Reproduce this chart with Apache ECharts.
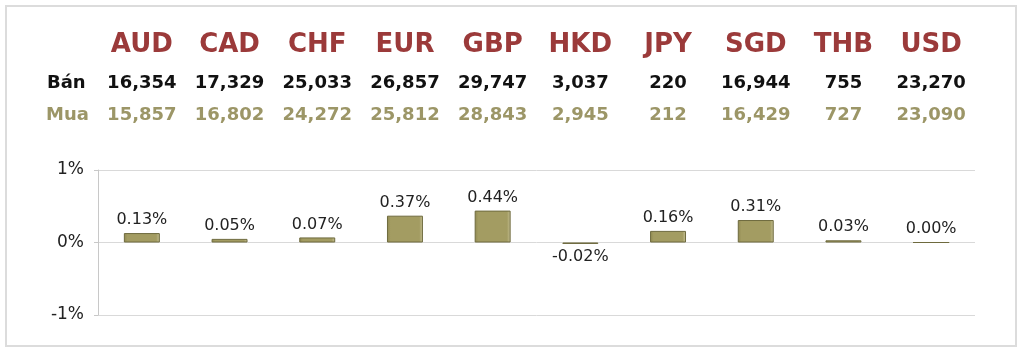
<!DOCTYPE html>
<html>
<head>
<meta charset="utf-8">
<script src="https://cdn.jsdelivr.net/npm/echarts@6/dist/echarts.min.js"></script>
<style>
  html, body { margin: 0; padding: 0; background: #fff; }
  #chart { width: 1024px; height: 353px; }
</style>
</head>
<body>
<div id="chart"></div>
<script>
// tỷ giá ngoại tệ
var currencies = ['AUD', 'CAD', 'CHF', 'EUR', 'GBP', 'HKD', 'JPY', 'SGD', 'THB', 'USD']
var sellRates = ['16,354', '17,329', '25,033', '26,857', '29,747', '3,037', '220', '16,944', '755', '23,270']
var buyRates = ['15,857', '16,802', '24,272', '25,812', '28,843', '2,945', '212', '16,429', '727', '23,090']
var changes = [0.13, 0.05, 0.07, 0.37, 0.44, -0.02, 0.16, 0.31, 0.03, 0.00]
var yTicks = { min: -1, max: 1, interval: 1 }
var rowNames = ['Bán', 'Mua']

var FONT = 'DejaVu Sans'
var chart = echarts.init(document.getElementById('chart'))

// trục phụ phía trên để hiển thị bảng tỷ giá
function topAxis (data, offset, size, color) {
  return {
    type: 'category',
    position: 'top',
    offset: offset,
    data: data,
    axisLine: { show: false },
    axisTick: { show: false },
    splitLine: { show: false },
    axisLabel: {
      interval: 0,
      margin: 0,
      fontFamily: FONT,
      fontWeight: 'bold',
      fontSize: size,
      color: color
    }
  }
}

chart.setOption({
  backgroundColor: '#fff',
  animation: false,
  grid: { left: 98, right: 49, top: 170, bottom: 38 },
  graphic: [
    {
      type: 'rect',
      shape: { x: 6, y: 6, width: 1010, height: 340 },
      style: { fill: 'none', stroke: '#dcdcdc', lineWidth: 2 },
      z: -1
    },
    {
      type: 'text', left: 47, top: 74,
      style: { text: rowNames[0], font: 'bold 18px "DejaVu Sans"', fill: '#111' }
    },
    {
      type: 'text', left: 46, top: 106,
      style: { text: rowNames[1], font: 'bold 18px "DejaVu Sans"', fill: '#9c9667' }
    }
  ],
  xAxis: [
    {
      type: 'category',
      data: currencies,
      axisLine: { show: false },
      axisTick: { show: false },
      axisLabel: { show: false }
    },
    topAxis(currencies, 112, 26, '#9b3a3a'),
    topAxis(sellRates, 78, 18, '#111'),
    topAxis(buyRates, 46, 18, '#9c9667')
  ],
  yAxis: {
    type: 'value',
    min: yTicks.min,
    max: yTicks.max,
    interval: yTicks.interval,
    axisLine: { show: true, lineStyle: { color: '#c8c8c8' } },
    axisTick: { show: true, length: 4, lineStyle: { color: '#c8c8c8' } },
    splitLine: { lineStyle: { color: '#d9d9d9', width: 1 } },
    axisLabel: {
      margin: 14,
      fontFamily: FONT,
      fontSize: 17,
      color: '#222',
      formatter: function (v) { return v + '%' }
    }
  },
  series: [
    {
      type: 'bar',
      xAxisIndex: 0,
      barWidth: '41%',
      data: changes.map(function (v) {
        return {
          value: v,
          label: { position: v < 0 ? 'bottom' : 'top' }
        }
      }),
      itemStyle: {
        color: new echarts.graphic.LinearGradient(0, 0, 1, 0, [
          { offset: 0, color: '#8f8850' },
          { offset: 0.1, color: '#a39c62' },
          { offset: 0.9, color: '#a39c62' },
          { offset: 1, color: '#c9c49a' }
        ]),
        borderColor: '#6e6a3e',
        borderWidth: 1
      },
      label: {
        show: true,
        distance: 5,
        fontFamily: FONT,
        fontSize: 16,
        color: '#222',
        formatter: function (p) { return p.value.toFixed(2) + '%' }
      }
    }
  ]
})
</script>
</body>
</html>
